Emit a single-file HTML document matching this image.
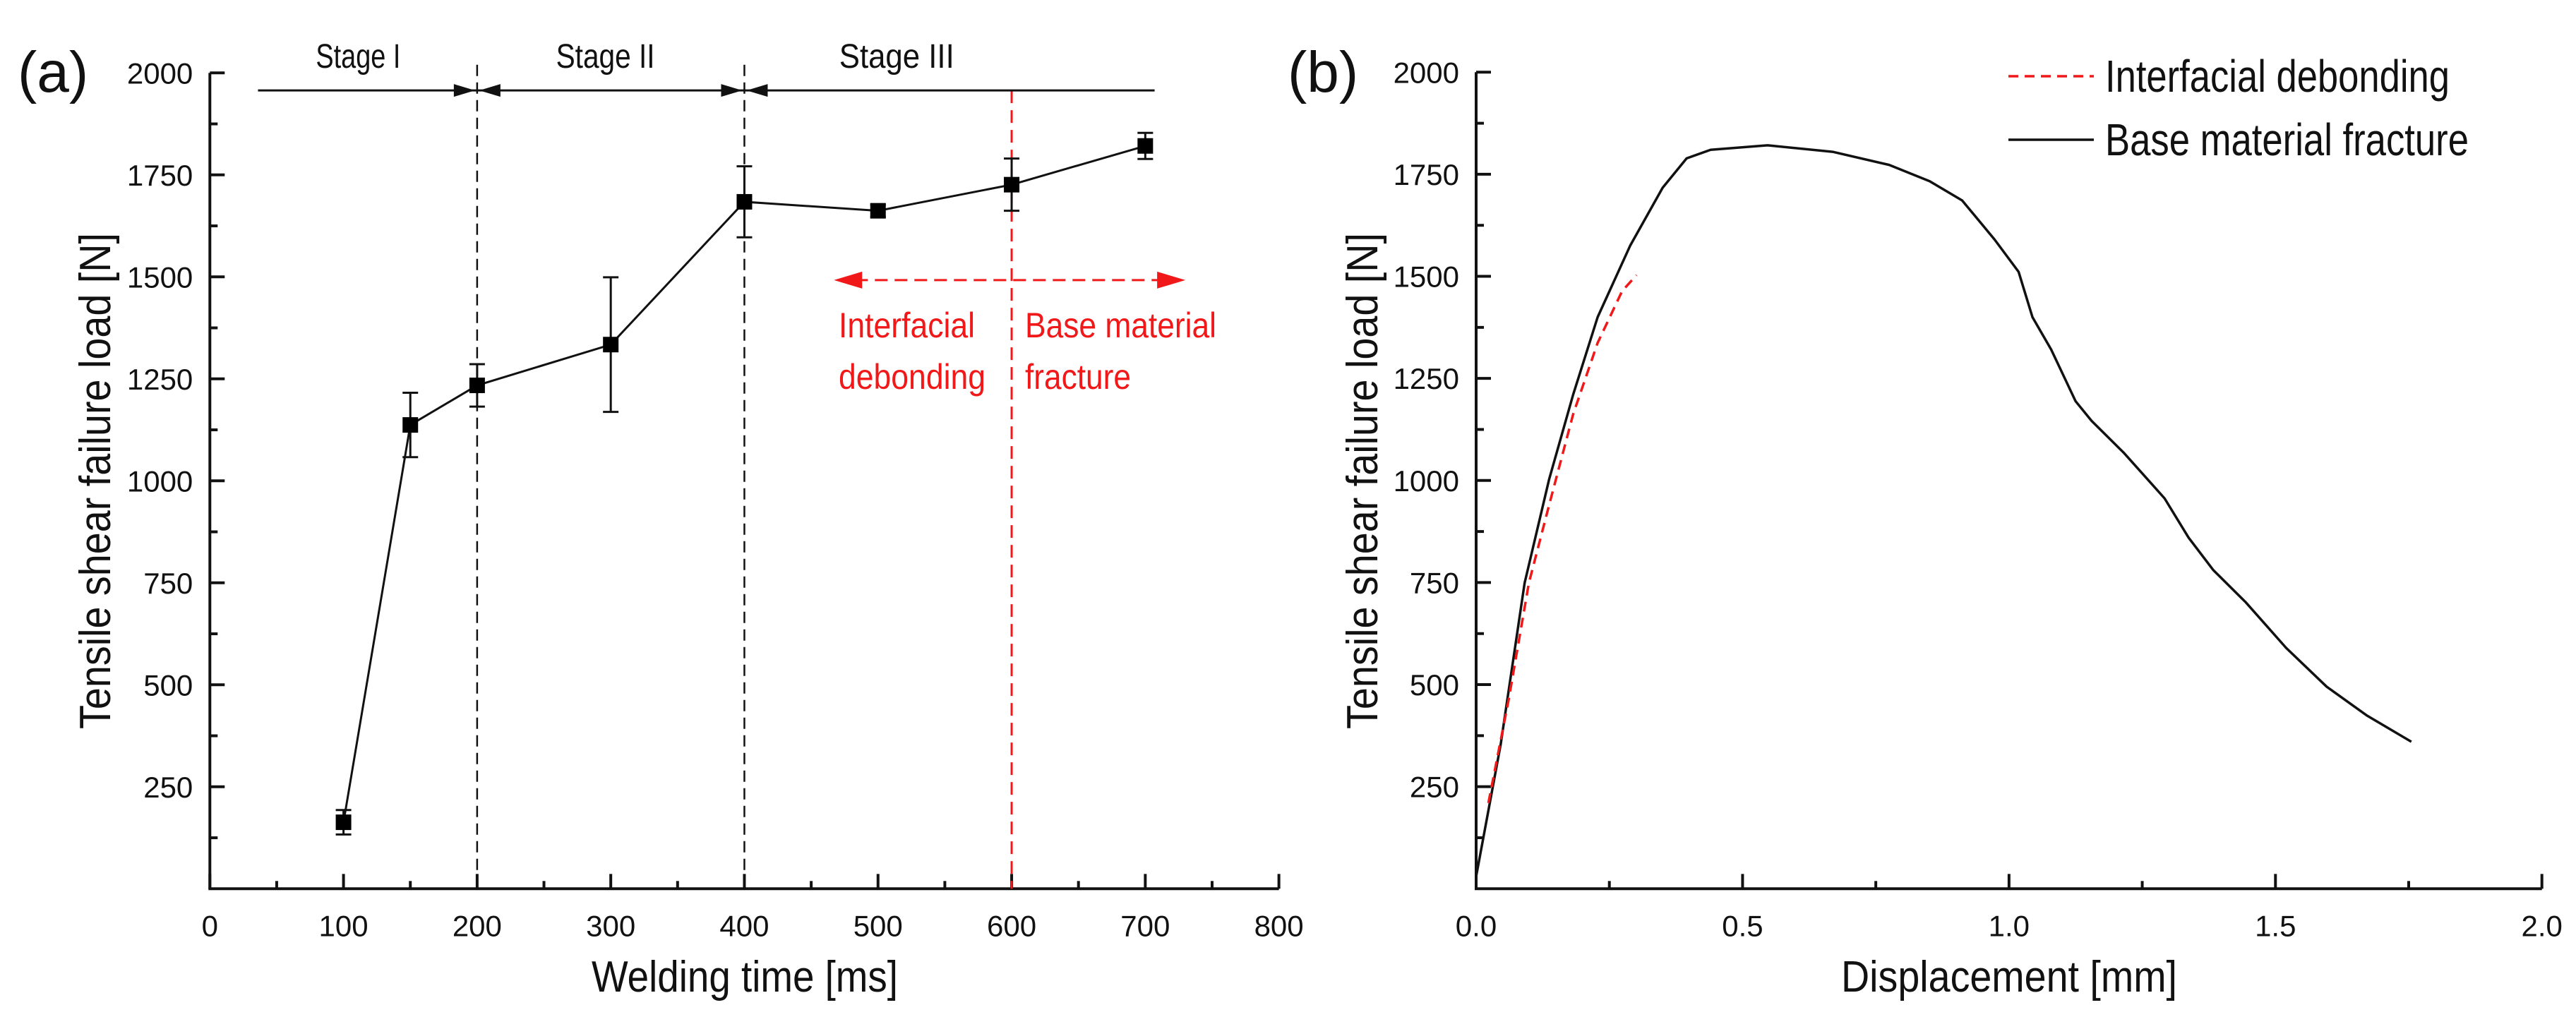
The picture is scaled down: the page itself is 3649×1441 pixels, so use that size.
<!DOCTYPE html>
<html><head><meta charset="utf-8"><style>
html,body{margin:0;padding:0;background:#fff;}
svg{display:block;font-family:"Liberation Sans",Arial,sans-serif;}
</style></head><body>
<svg id="fig" width="3649" height="1441" viewBox="0 0 3649 1441" xmlns="http://www.w3.org/2000/svg">
<rect width="3649" height="1441" fill="#fff"/>
<g id="pa"></g>
<g id="pb"></g>
</svg>
<script>
// ---- Panel (a) data ----
const aTimes = [100,150,200,300,400,500,600,700];
const aLoads = [163,1137,1234,1334,1684,1662,1726,1821];
const aErrs  = [30,79,52,165,87,15,64,32];
const aXTicks = [0,100,200,300,400,500,600,700,800];
const aYTicks = [250,500,750,1000,1250,1500,1750,2000];
const aStageLabels = ["Stage I","Stage II","Stage III"];
const aStageCenters = [111,296,514];
// ---- Panel (b) data ----
const bBaseX = [0,0.046,0.091,0.137,0.182,0.228,0.289,0.35,0.395,0.44,0.547,0.669,0.775,0.851,0.912,0.973,1.018,1.044,1.079,1.125,1.155,1.216,1.292,1.337,1.383,1.444,1.52,1.596,1.672,1.755];
const bBaseY = [30,353,749,1003,1210,1400,1575,1717,1789,1810,1821,1805,1773,1733,1686,1590,1511,1400,1321,1194,1146,1067,956,860,781,702,590,495,424,360];
const bDebX = [0.023,0.061,0.099,0.137,0.182,0.228,0.274,0.301];
const bDebY = [210,463,749,940,1162,1337,1464,1503];
const bXTicks = [0,0.5,1.0,1.5,2.0];
const bXTickLabels = ["0.0","0.5","1.0","1.5","2.0"];
const bYTicks = [250,500,750,1000,1250,1500,1750,2000];

const NS="http://www.w3.org/2000/svg";
function mk(parent,tag,attrs){const e=document.createElementNS(NS,tag);for(const k in attrs)e.setAttribute(k,attrs[k]);parent.appendChild(e);return e;}

const pa=document.getElementById('pa');
const pb=document.getElementById('pb');
const ax=v=>297.3+v*1.8929;
const ay=v=>1259.3-v*0.578;
const bx=v=>2091+v*754.85;
const by=v=>1259.3-v*0.5785;

function axes(g,X,Y,x0v,x1v,xt,xtl,xminor,yt,yminor,pre){
  let a=mk(g,'line',{x1:X(x0v),y1:Y(0),x2:X(x0v),y2:Y(2000),stroke:'#111','stroke-width':4});
  
  a=mk(g,'line',{x1:X(x0v)-2,y1:Y(0),x2:X(x1v),y2:Y(0),stroke:'#111','stroke-width':4});
  
  xt.forEach((v,i)=>{
    const t=mk(g,'line',{x1:X(v),y1:Y(0),x2:X(v),y2:Y(0)-21,stroke:'#111','stroke-width':4});
    
    const l=mk(g,'text',{x:X(v),y:Y(0)+67,'font-size':42,'text-anchor':'middle',fill:'#111'});
    l.textContent=xtl[i];
    
  });
  xminor.forEach(v=>{
    const t=mk(g,'line',{x1:X(v),y1:Y(0),x2:X(v),y2:Y(0)-11,stroke:'#111','stroke-width':4});
    
  });
  yt.forEach(v=>{
    const t=mk(g,'line',{x1:X(x0v),y1:Y(v),x2:X(x0v)+21,y2:Y(v),stroke:'#111','stroke-width':4});
    
    const l=mk(g,'text',{x:X(x0v)-24,y:Y(v)+15,'font-size':42,'text-anchor':'end',fill:'#111'});
    l.textContent=String(v);
    
  });
  yminor.forEach(v=>{
    const t=mk(g,'line',{x1:X(x0v),y1:Y(v),x2:X(x0v)+11,y2:Y(v),stroke:'#111','stroke-width':4});
    
  });
}
const yMinor=[125,375,625,875,1125,1375,1625,1875];
axes(pa,ax,ay,0,800,aXTicks,aXTicks.map(String),[50,150,250,350,450,550,650,750],aYTicks,yMinor,'a-');
axes(pb,bx,by,0,2,bXTicks,bXTickLabels,[0.25,0.75,1.25,1.75],bYTicks,yMinor,'b-');

function ctext(g,attrs,str,len){
  const e=mk(g,'text',attrs);e.textContent=str;
  if(len){e.setAttribute('textLength',len);e.setAttribute('lengthAdjust','spacingAndGlyphs');}
  return e;
}
let t=ctext(pa,{x:25,y:130,'font-size':82,fill:'#111'},'(a)');

t=ctext(pa,{x:838,y:1405,'font-size':62,fill:'#111'},'Welding time [ms]',434);

t=ctext(pa,{x:-351,y:0,'font-size':62,fill:'#111',transform:'translate(156,682) rotate(-90)'},'Tensile shear failure load [N]',703);


[200,400].forEach(v=>{
  const l=mk(pa,'line',{x1:ax(v),y1:ay(2020),x2:ax(v),y2:ay(0),stroke:'#111','stroke-width':2.5,'stroke-dasharray':'16,9'});
  
});
let rl=mk(pa,'line',{x1:ax(600),y1:ay(1957),x2:ax(600),y2:ay(0),stroke:'#f01818','stroke-width':3,'stroke-dasharray':'18,10'});

let sl=mk(pa,'line',{x1:ax(36),y1:ay(1957),x2:ax(707),y2:ay(1957),stroke:'#111','stroke-width':3});

function tri(g,xTip,y,dir,col,len,h){
  return mk(g,'polygon',{points:`${xTip},${y} ${xTip-dir*len},${y-h} ${xTip-dir*len},${y+h}`,fill:col});
}
[[200,1],[200,-1],[400,1],[400,-1]].forEach(([v,d])=>{
  const p=tri(pa,ax(v)+(d>0?-3:3),ay(1957),d,'#111',30,9);
  
});
const stageLens=[120,140,163];
aStageLabels.forEach((s,i)=>{
  const e=ctext(pa,{x:ax(aStageCenters[i])-stageLens[i]/2,y:96,'font-size':48,fill:'#111'},s,stageLens[i]);
  
});
let ra=mk(pa,'line',{x1:ax(467)+30,y1:ay(1492),x2:ax(730)-30,y2:ay(1492),stroke:'#f01818','stroke-width':3,'stroke-dasharray':'18,10'});

let rh=tri(pa,ax(467),ay(1492),-1,'#f01818',40,12);

rh=tri(pa,ax(730),ay(1492),1,'#f01818',40,12);

[['Interfacial',1188,478,193],['debonding',1188,551,208],['Base material',1452,478,271],['fracture',1452,551,150]].forEach(([s,x,y,l])=>{
  const e=ctext(pa,{x:x,y:y,'font-size':50,fill:'#f01818'},s,l);
  
});
let pl=mk(pa,'polyline',{points:aTimes.map((v,i)=>ax(v)+','+ay(aLoads[i])).join(' '),fill:'none',stroke:'#111','stroke-width':3});

aTimes.forEach((v,i)=>{
  const x=ax(v),yh=ay(aLoads[i]+aErrs[i]),yl=ay(aLoads[i]-aErrs[i]);
  const e=mk(pa,'path',{d:`M${x},${yh}V${yl}M${x-11},${yh}H${x+11}M${x-11},${yl}H${x+11}`,stroke:'#111','stroke-width':3,fill:'none'});
  
  const m=mk(pa,'rect',{x:x-11,y:ay(aLoads[i])-11,width:22,height:22,fill:'#000'});
  
});

t=ctext(pb,{x:1824,y:130,'font-size':82,fill:'#111'},'(b)');

t=ctext(pb,{x:2608,y:1405,'font-size':62,fill:'#111'},'Displacement [mm]',476);

t=ctext(pb,{x:-351,y:0,'font-size':62,fill:'#111',transform:'translate(1951,682) rotate(-90)'},'Tensile shear failure load [N]',703);

let c=mk(pb,'polyline',{points:bBaseX.map((v,i)=>bx(v)+','+by(bBaseY[i])).join(' '),fill:'none',stroke:'#111','stroke-width':3.5,'stroke-linejoin':'round'});

c=mk(pb,'polyline',{points:bDebX.map((v,i)=>bx(v)+','+by(bDebY[i])).join(' '),fill:'none',stroke:'#f01818','stroke-width':3.5,'stroke-dasharray':'14,9'});

let lg=mk(pb,'line',{x1:2845,y1:108,x2:2966,y2:108,stroke:'#f01818','stroke-width':3.5,'stroke-dasharray':'14,9'});

lg=mk(pb,'line',{x1:2845,y1:198,x2:2966,y2:198,stroke:'#111','stroke-width':3.5});

t=ctext(pb,{x:2982,y:130,'font-size':64,fill:'#111'},'Interfacial debonding',488);

t=ctext(pb,{x:2982,y:220,'font-size':64,fill:'#111'},'Base material fracture',515);

</script>
</body></html>
